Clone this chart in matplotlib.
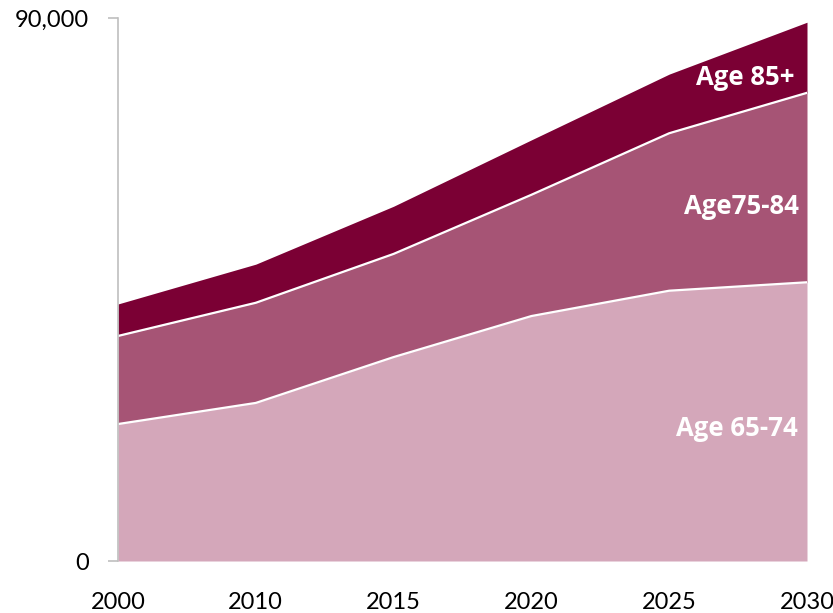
import matplotlib
matplotlib.use('Agg')
import matplotlib.pyplot as plt
import numpy as np

# Datos (miles de personas)
anios = ['2000', '2010', '2015', '2020', '2025', '2030']
edad_65_74 = [22700, 26200, 33800, 40600, 44800, 46200]
edad_75_84 = [14600, 16600, 17100, 20100, 26100, 31400]
edad_85_mas = [5300, 6400, 7900, 9100, 9800, 11700]

CLARO = '#D4A7BA'
MEDIO = '#A65475'
OSCURO = '#7B0034'

plt.rcParams['font.family'] = ['Lato', 'DejaVu Sans']

fig = plt.figure(figsize=(8.33, 6.13), dpi=100)
ax = fig.add_axes([118/833, 1 - 561/613, (807-118)/833, (561-18)/613])

x = np.arange(len(anios))
c1 = np.array(edad_65_74)
c2 = c1 + np.array(edad_75_84)
c3 = c2 + np.array(edad_85_mas)

ax.fill_between(x, 0, c1, color=CLARO, lw=0)
ax.fill_between(x, c1, c2, color=MEDIO, lw=0)
ax.fill_between(x, c2, c3, color=OSCURO, lw=0)
ax.plot(x, c1, color='white', lw=1.6)
ax.plot(x, c2, color='white', lw=1.6)

ax.set_xlim(0, len(anios) - 1)
ax.set_ylim(0, 90000)
ax.set_xticks(x)
ax.set_xticklabels(anios, fontsize=17)
ax.set_yticks([0, 90000])
ax.set_yticklabels(['0', '90,000'], fontsize=17)
ax.tick_params(axis='x', length=0, pad=22)
ax.tick_params(axis='y', length=7, width=1.2, color='#BFBFBF', pad=14)

for s in ['top', 'right', 'bottom']:
    ax.spines[s].set_visible(False)
ax.spines['left'].set_color('#BFBFBF')
ax.spines['left'].set_linewidth(1.2)

# Etiquetas de cada grupo
ult = len(anios) - 1
estilo = dict(color='white', fontsize=18.5, fontweight='bold', ha='right', va='center',
              family=['Open Sans', 'DejaVu Sans'])
ax.text(ult - 0.09, 80200, 'Age 85+', **estilo)
ax.text(ult - 0.06, 58800, 'Age75-84', **estilo)
ax.text(ult - 0.07, 22000, 'Age 65-74', **estilo)

fig.savefig('out.png', dpi=100)
